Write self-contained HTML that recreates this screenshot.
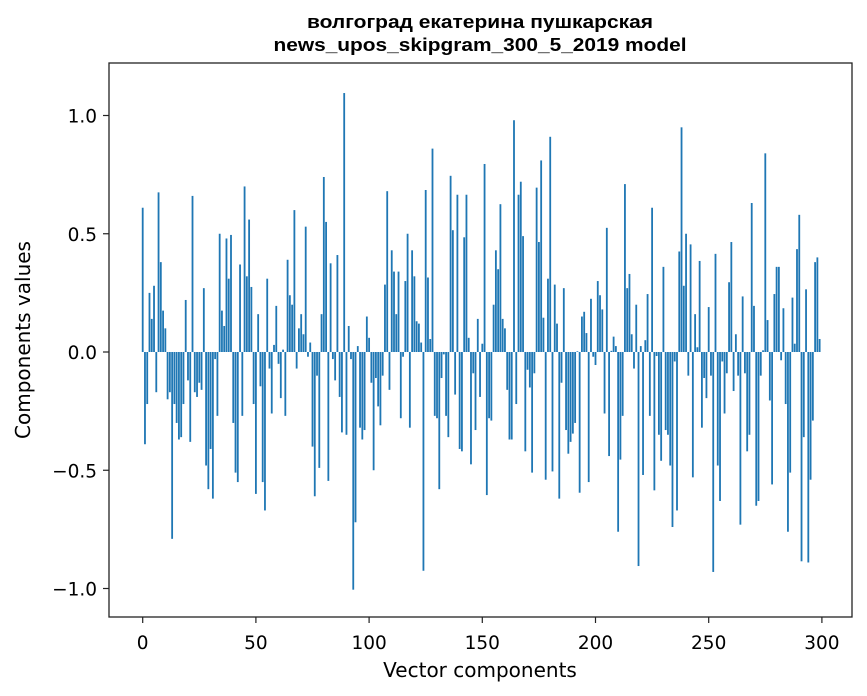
<!DOCTYPE html>
<html><head><meta charset="utf-8"><style>
body{margin:0;background:#fff;}
svg{display:block;font-family:"DejaVu Sans","Liberation Sans",sans-serif;}
</style></head><body>
<svg id="chart" width="867" height="696" viewBox="0 0 867 696" xmlns="http://www.w3.org/2000/svg">
<rect width="867" height="696" fill="#fff"/>
<text x="480" y="28" text-anchor="middle" font-size="18" font-weight="bold" font-family="Liberation Sans, sans-serif" textLength="346" lengthAdjust="spacingAndGlyphs">волгоград екатерина пушкарская</text>
<text x="480" y="51" text-anchor="middle" font-size="18" font-weight="bold" font-family="Liberation Sans, sans-serif" textLength="413" lengthAdjust="spacingAndGlyphs">news_upos_skipgram_300_5_2019 model</text>
<g id="bars"></g>
<g id="axes"></g>
<text x="480" y="677" text-anchor="middle" font-size="20">Vector components</text>
<text transform="translate(30,340) rotate(-90)" text-anchor="middle" font-size="20">Components values</text>
</svg>
<script>
const categoriesCount = 300;
const values = [
0.61,-0.39,-0.22,0.25,0.14,0.28,-0.17,0.675,0.38,0.175,
0.10,-0.20,-0.17,-0.79,-0.22,-0.30,-0.37,-0.36,-0.22,0.22,
-0.12,-0.38,0.66,-0.17,-0.19,-0.13,-0.16,0.27,-0.48,-0.58,
-0.41,-0.62,-0.03,-0.27,0.50,0.175,0.11,0.48,0.31,0.495,
-0.30,-0.51,-0.55,0.37,-0.27,0.70,0.32,0.56,0.275,-0.22,
-0.60,0.16,-0.145,-0.55,-0.67,0.31,-0.07,-0.26,0.03,0.195,
-0.05,-0.195,0.01,-0.27,0.39,0.24,0.20,0.60,-0.07,0.10,
0.16,0.075,0.53,-0.02,0.04,-0.40,-0.61,-0.10,-0.49,0.16,
0.74,0.55,-0.545,0.375,-0.03,-0.12,0.41,-0.19,-0.34,1.095,
-0.35,0.11,-0.03,-1.005,-0.72,0.025,-0.32,-0.37,-0.33,0.15,
0.06,-0.13,-0.50,-0.11,-0.23,-0.31,-0.10,0.285,0.68,-0.16,
0.43,0.34,0.16,0.34,-0.28,-0.02,0.30,0.50,-0.32,0.43,
0.32,0.13,0.12,0.04,-0.925,0.685,0.315,0.055,0.86,-0.27,
-0.28,-0.58,-0.11,-0.01,-0.27,-0.36,0.745,0.515,-0.18,0.665,
-0.41,-0.42,0.485,0.665,0.06,-0.475,-0.09,-0.33,0.14,-0.19,
0.035,0.795,-0.605,-0.28,-0.29,0.20,0.43,0.35,0.625,0.14,
0.10,-0.16,-0.37,-0.37,0.98,-0.22,0.665,0.72,0.49,-0.42,
-0.075,-0.15,-0.51,-0.09,0.695,0.465,0.81,0.145,-0.54,0.31,
0.91,-0.505,0.285,0.12,-0.62,-0.13,0.27,-0.33,-0.43,-0.38,
-0.345,-0.30,0.003,-0.595,0.15,0.17,0.08,-0.55,0.225,-0.02,
-0.055,0.30,0.24,0.18,-0.26,0.525,-0.44,0.005,0.065,0.025,
-0.76,-0.455,-0.27,0.71,0.27,0.33,0.075,-0.07,0.20,-0.905,
0.025,-0.52,0.05,0.245,-0.27,0.61,-0.585,-0.017,-0.35,-0.46,
0.36,-0.33,-0.35,-0.48,-0.74,-0.04,-0.67,0.425,0.95,0.28,
0.50,-0.10,0.455,-0.53,0.16,0.02,0.385,-0.32,-0.11,-0.195,
0.19,-0.10,-0.93,0.415,-0.48,-0.63,-0.04,-0.26,-0.09,0.295,
0.465,-0.165,0.075,-0.10,-0.73,0.235,-0.09,-0.42,-0.35,0.63,
0.195,-0.65,-0.63,-0.10,0.007,0.84,0.135,-0.205,-0.56,0.245,
0.36,0.36,-0.035,0.185,-0.22,-0.76,-0.51,0.23,0.035,0.435,
0.58,-0.885,-0.36,0.265,-0.89,-0.54,-0.29,0.38,0.40,0.055
];
const xTicks = [0,50,100,150,200,250,300];
const yTicks = [-1.0,-0.5,0.0,0.5,1.0];
const yTickLabels = ["\u22121.0","\u22120.5","0.0","0.5","1.0"];

const NS="http://www.w3.org/2000/svg";
const L=109,R=852,T=63,B=617;
function xs(v){return 142.7+v*2.264;}
function ys(v){return 352-v*236.5;}
const bars=document.getElementById('bars');
for(let i=0;i<values.length;i++){
  const v=values[i];
  const r=document.createElementNS(NS,'rect');
  
  
  const y0=ys(0),y1=ys(v);
  r.setAttribute('x',xs(i-0.4));
  r.setAttribute('width',2.264*0.8);
  r.setAttribute('y',Math.min(y0,y1));
  r.setAttribute('height',Math.abs(y1-y0));
  r.setAttribute('fill','#1f77b4');
  bars.appendChild(r);
}
const ax=document.getElementById('axes');
const frame=document.createElementNS(NS,'rect');


frame.setAttribute('x',L);frame.setAttribute('y',T);
frame.setAttribute('width',R-L);frame.setAttribute('height',B-T);
frame.setAttribute('fill','none');frame.setAttribute('stroke','#222');frame.setAttribute('stroke-width','1.3');
ax.appendChild(frame);
xTicks.forEach(t=>{
  const x=xs(t);
  const l=document.createElementNS(NS,'line');
  
  
  l.setAttribute('x1',x);l.setAttribute('x2',x);l.setAttribute('y1',B);l.setAttribute('y2',B+6);
  l.setAttribute('stroke','#222');l.setAttribute('stroke-width','1.2');
  ax.appendChild(l);
  const tx=document.createElementNS(NS,'text');
  
  
  tx.setAttribute('x',x);tx.setAttribute('y',B+32);
  tx.setAttribute('text-anchor','middle');tx.setAttribute('font-size','18.5');
  tx.textContent=String(t);
  ax.appendChild(tx);
});
yTicks.forEach((t,k)=>{
  const y=ys(t);
  const l=document.createElementNS(NS,'line');
  
  
  l.setAttribute('x1',L-6);l.setAttribute('x2',L);l.setAttribute('y1',y);l.setAttribute('y2',y);
  l.setAttribute('stroke','#222');l.setAttribute('stroke-width','1.2');
  ax.appendChild(l);
  const tx=document.createElementNS(NS,'text');
  
  
  tx.setAttribute('x',L-12);tx.setAttribute('y',y+7);
  tx.setAttribute('text-anchor','end');tx.setAttribute('font-size','18.5');
  tx.textContent=yTickLabels[k];
  ax.appendChild(tx);
});
</script>
</body></html>
